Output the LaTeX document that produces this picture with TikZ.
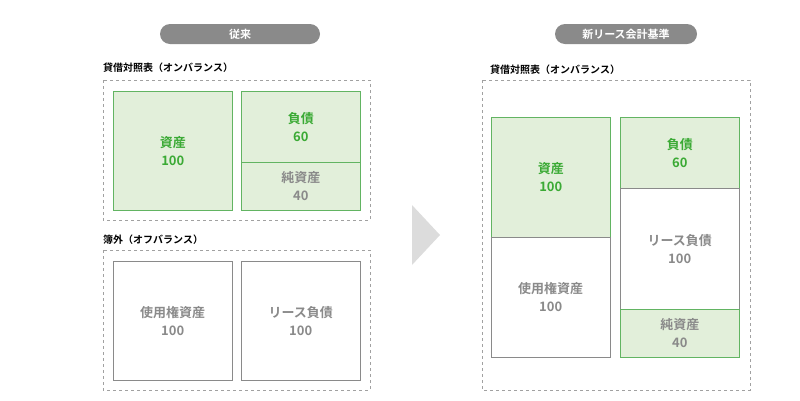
\documentclass[tikz,border=0pt]{standalone}
\usepackage{fontspec}
\setmainfont{Noto Sans CJK JP}[BoldFont={Noto Sans CJK JP Bold}]
\usetikzlibrary{positioning}
\definecolor{grbox}{HTML}{E2EFDA}
\definecolor{grline}{HTML}{62B462}
\definecolor{grtext}{HTML}{3BAA35}
\definecolor{gytext}{HTML}{8A8A8A}
\tikzset{
    pill/.style={fill=gytext,rounded corners=10pt,text=white,font=\bfseries\fontsize{11}{13}\selectfont,minimum height=20pt,inner sep=0pt},
    caption/.style={anchor=west,font=\bfseries\fontsize{10}{12}\selectfont,inner sep=0pt},
    frame/.style={draw=gytext!80,dashed,semithick},
    green/.style={draw=grline,fill=grbox,text=grtext,semithick,anchor=north west,align=center,
        font=\bfseries\fontsize{13}{18}\selectfont,inner sep=0pt},
    plain/.style={draw=gytext,fill=white,text=gytext,anchor=north west,align=center,
        font=\bfseries\fontsize{13}{18}\selectfont,inner sep=0pt},
    sub/.style={text=gytext}
}
\begin{document}
\begin{tikzpicture}[x=1pt,y=-1pt]
    \useasboundingbox (0,0) rectangle (800,400);
    % old
    \node[pill,minimum width=160pt] (oldtag) at (240,34) {従来};
    \node[caption] (oncap1) at (103,68) {貸借対照表（オンバランス）};
    \draw[frame] (103,80) rectangle (370,220);
    \node[green,minimum width=119pt,minimum height=119pt] (asset1) at (113,91) {資産\\100};
    \node[green,minimum width=119pt,minimum height=71pt] (debt1) at (241,91) {負債\\60};
    \node[green,sub,minimum width=119pt,minimum height=48pt] (equity1) at (241,162) {純資産\\40};
    \node[caption] (offcap) at (103,240) {簿外（オフバランス）};
    \draw[frame] (103,250) rectangle (370,390);
    \node[plain,minimum width=119pt,minimum height=119pt] (rou1) at (113,261) {使用権資産\\100};
    \node[plain,minimum width=119pt,minimum height=119pt] (lease1) at (241,261) {リース負債\\100};
    % arrow
    \fill[gytext!30] (412,205) -- (440,235) -- (412,265) -- cycle;
    % new
    \node[pill,minimum width=142pt] (newtag) at (626,34) {新リース会計基準};
    \node[caption] (oncap2) at (490,70) {貸借対照表（オンバランス）};
    \draw[frame] (482,80) rectangle (750,390);
    \node[green,minimum width=119pt,minimum height=120pt] (asset2) at (491,117) {資産\\100};
    \node[plain,minimum width=119pt,minimum height=120pt] (rou2) at (491,237) {使用権資産\\100};
    \node[green,minimum width=119pt,minimum height=71pt] (debt2) at (620,117) {負債\\60};
    \node[plain,minimum width=119pt,minimum height=121pt] (lease2) at (620,188) {リース負債\\100};
    \node[green,sub,minimum width=119pt,minimum height=48pt] (equity2) at (620,309) {純資産\\40};
\end{tikzpicture}
\end{document}
